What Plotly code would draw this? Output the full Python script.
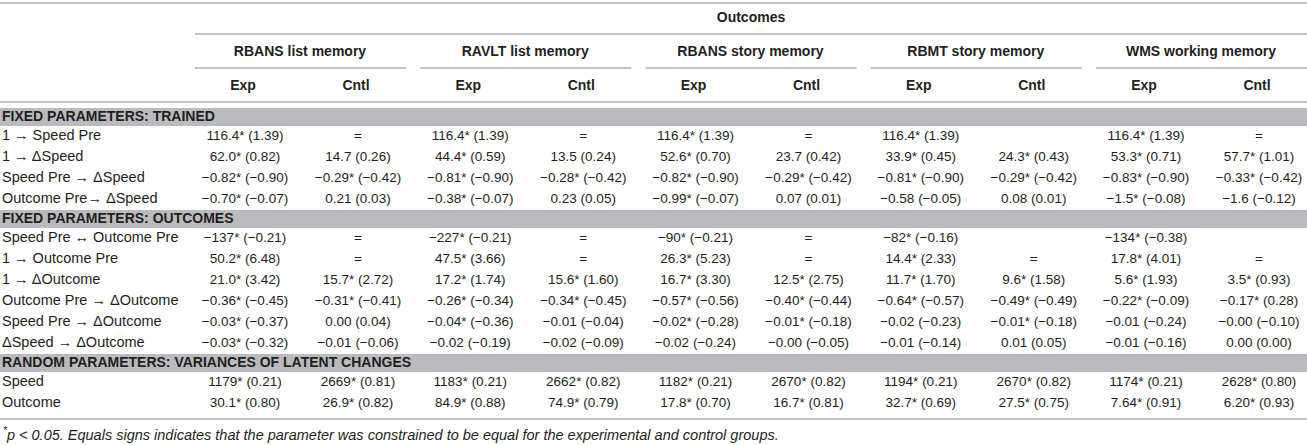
import plotly.graph_objects as go

# ---------------- data ----------------
outcome_groups = ["RBANS list memory", "RAVLT list memory", "RBANS story memory",
                  "RBMT story memory", "WMS working memory"]
sub_columns = ["Exp", "Cntl"]
sections = ["FIXED PARAMETERS: TRAINED", "FIXED PARAMETERS: OUTCOMES",
            "RANDOM PARAMETERS: VARIANCES OF LATENT CHANGES"]
trained_rows = ["1 → Speed Pre", "1 → ΔSpeed", "Speed Pre → ΔSpeed", "Outcome Pre→ ΔSpeed"]
outcome_rows = ["Speed Pre ↔ Outcome Pre", "1 → Outcome Pre", "1 → ΔOutcome",
                "Outcome Pre → ΔOutcome", "Speed Pre → ΔOutcome", "ΔSpeed → ΔOutcome"]
random_rows = ["Speed", "Outcome"]

rbans_list_exp = ["116.4* (1.39)", "62.0* (0.82)", "−0.82* (−0.90)", "−0.70* (−0.07)",
                  "−137* (−0.21)", "50.2* (6.48)", "21.0* (3.42)", "−0.36* (−0.45)",
                  "−0.03* (−0.37)", "−0.03* (−0.32)", "1179* (0.21)", "30.1* (0.80)"]
rbans_list_cntl = ["=", "14.7 (0.26)", "−0.29* (−0.42)", "0.21 (0.03)",
                   "=", "=", "15.7* (2.72)", "−0.31* (−0.41)",
                   "0.00 (0.04)", "−0.01 (−0.06)", "2669* (0.81)", "26.9* (0.82)"]
ravlt_list_exp = ["116.4* (1.39)", "44.4* (0.59)", "−0.81* (−0.90)", "−0.38* (−0.07)",
                  "−227* (−0.21)", "47.5* (3.66)", "17.2* (1.74)", "−0.26* (−0.34)",
                  "−0.04* (−0.36)", "−0.02 (−0.19)", "1183* (0.21)", "84.9* (0.88)"]
ravlt_list_cntl = ["=", "13.5 (0.24)", "−0.28* (−0.42)", "0.23 (0.05)",
                   "=", "=", "15.6* (1.60)", "−0.34* (−0.45)",
                   "−0.01 (−0.04)", "−0.02 (−0.09)", "2662* (0.82)", "74.9* (0.79)"]
rbans_story_exp = ["116.4* (1.39)", "52.6* (0.70)", "−0.82* (−0.90)", "−0.99* (−0.07)",
                   "−90* (−0.21)", "26.3* (5.23)", "16.7* (3.30)", "−0.57* (−0.56)",
                   "−0.02* (−0.28)", "−0.02 (−0.24)", "1182* (0.21)", "17.8* (0.70)"]
rbans_story_cntl = ["=", "23.7 (0.42)", "−0.29* (−0.42)", "0.07 (0.01)",
                    "=", "=", "12.5* (2.75)", "−0.40* (−0.44)",
                    "−0.01* (−0.18)", "−0.00 (−0.05)", "2670* (0.82)", "16.7* (0.81)"]
rbmt_story_exp = ["116.4* (1.39)", "33.9* (0.45)", "−0.81* (−0.90)", "−0.58 (−0.05)",
                  "−82* (−0.16)", "14.4* (2.33)", "11.7* (1.70)", "−0.64* (−0.57)",
                  "−0.02 (−0.23)", "−0.01 (−0.14)", "1194* (0.21)", "32.7* (0.69)"]
rbmt_story_cntl = ["", "24.3* (0.43)", "−0.29* (−0.42)", "0.08 (0.01)",
                   "", "=", "9.6* (1.58)", "−0.49* (−0.49)",
                   "−0.01* (−0.18)", "0.01 (0.05)", "2670* (0.82)", "27.5* (0.75)"]
wms_working_exp = ["116.4* (1.39)", "53.3* (0.71)", "−0.83* (−0.90)", "−1.5* (−0.08)",
                   "−134* (−0.38)", "17.8* (4.01)", "5.6* (1.93)", "−0.22* (−0.09)",
                   "−0.01 (−0.24)", "−0.01 (−0.16)", "1174* (0.21)", "7.64* (0.91)"]
wms_working_cntl = ["=", "57.7* (1.01)", "−0.33* (−0.42)", "−1.6 (−0.12)",
                    "", "=", "3.5* (0.93)", "−0.17* (0.28)",
                    "−0.00 (−0.10)", "0.00 (0.00)", "2628* (0.80)", "6.20* (0.93)"]

footnote = ("<i><sup>*</sup>p &lt; 0.05. Equals signs indicates that the parameter was "
            "constrained to be equal for the experimental and control groups.</i>")

# ---------------- layout constants ----------------
W, H = 1307, 445
FONT = "Liberation Sans"
FS_LABEL = 14.5
FS_CELL = 13.5
FS_HEAD = 14
FS_NOTE = 14.5
TXT = "#231f20"
LINE = "#c4c4c4"
BAND = "#babbbe"

columns = [rbans_list_exp, rbans_list_cntl, ravlt_list_exp, ravlt_list_cntl,
           rbans_story_exp, rbans_story_cntl, rbmt_story_exp, rbmt_story_cntl,
           wms_working_exp, wms_working_cntl]
section_rows = [trained_rows, outcome_rows, random_rows]

pitch = 225.25
col_x = []
for g in range(len(outcome_groups)):
    col_x += [245 + pitch * g, 358 + pitch * g]

fig = go.Figure()
shapes = []

# header lines
shapes.append(dict(type="line", x0=0, x1=W, y0=3, y1=3, line=dict(color=LINE, width=2)))
shapes.append(dict(type="line", x0=195, x1=W, y0=34, y1=34, line=dict(color=LINE, width=2)))
for g in range(len(outcome_groups)):
    x0 = 195 + pitch * g
    shapes.append(dict(type="line", x0=x0, x1=min(x0 + 211, W), y0=68, y1=68,
                       line=dict(color=LINE, width=2)))
shapes.append(dict(type="line", x0=0, x1=W, y0=102, y1=102, line=dict(color=LINE, width=2)))

# header texts
hx, hy, ht = [], [], []
hx.append((195 + W) / 2); hy.append(18); ht.append("<b>Outcomes</b>")
for g, name in enumerate(outcome_groups):
    hx.append(195 + pitch * g + 105); hy.append(52); ht.append(f"<b>{name}</b>")
for i, x in enumerate(col_x):
    hx.append(x - 2); hy.append(86); ht.append(f"<b>{sub_columns[i % 2]}</b>")
fig.add_trace(go.Scatter(x=hx, y=hy, text=ht, mode="text", textposition="middle center",
                         textfont=dict(family=FONT, size=FS_HEAD, color=TXT), hoverinfo="skip"))

# body
y = 108
BAND_H, ROW_H = 18, 21
bx, by, bt = [], [], []
lx, ly, lt = [], [], []
cx, cy, ct = [], [], []
r = 0
for s, rows in zip(sections, section_rows):
    shapes.append(dict(type="rect", x0=0, x1=W, y0=y, y1=y + BAND_H, fillcolor=BAND,
                       line=dict(width=0), layer="below"))
    bx.append(2); by.append(y + BAND_H / 2 + 0.5); bt.append(f"<b>{s}</b>")
    y += BAND_H
    for lab in rows:
        yc = y + ROW_H / 2
        lx.append(2); ly.append(yc); lt.append(lab)
        for x, col in zip(col_x, columns):
            if col[r]:
                cx.append(x); cy.append(yc); ct.append(col[r])
        r += 1
        y += ROW_H
shapes.append(dict(type="line", x0=0, x1=W, y0=y + 5, y1=y + 5, line=dict(color=LINE, width=2)))

fig.add_trace(go.Scatter(x=bx, y=by, text=bt, mode="text", textposition="middle right",
                         textfont=dict(family=FONT, size=FS_HEAD, color=TXT), hoverinfo="skip"))
fig.add_trace(go.Scatter(x=lx, y=ly, text=lt, mode="text", textposition="middle right",
                         textfont=dict(family=FONT, size=FS_LABEL, color=TXT), hoverinfo="skip"))
fig.add_trace(go.Scatter(x=cx, y=cy, text=ct, mode="text", textposition="middle center",
                         textfont=dict(family=FONT, size=FS_CELL, color=TXT), hoverinfo="skip"))

fig.add_annotation(x=1, y=y + 20, xref="x", yref="y", text=footnote, showarrow=False,
                   xanchor="left", yanchor="middle",
                   font=dict(family=FONT, size=FS_NOTE, color=TXT))

fig.update_layout(
    width=W, height=H, margin=dict(l=0, r=0, t=0, b=0),
    paper_bgcolor="white", plot_bgcolor="white", showlegend=False,
    xaxis=dict(range=[0, W], visible=False, fixedrange=True),
    yaxis=dict(range=[H, 0], visible=False, fixedrange=True),
    shapes=shapes,
)
fig.write_html("out.html", config={"displayModeBar": False},
               post_script="document.body.style.margin='0';document.body.style.overflow='hidden';")
